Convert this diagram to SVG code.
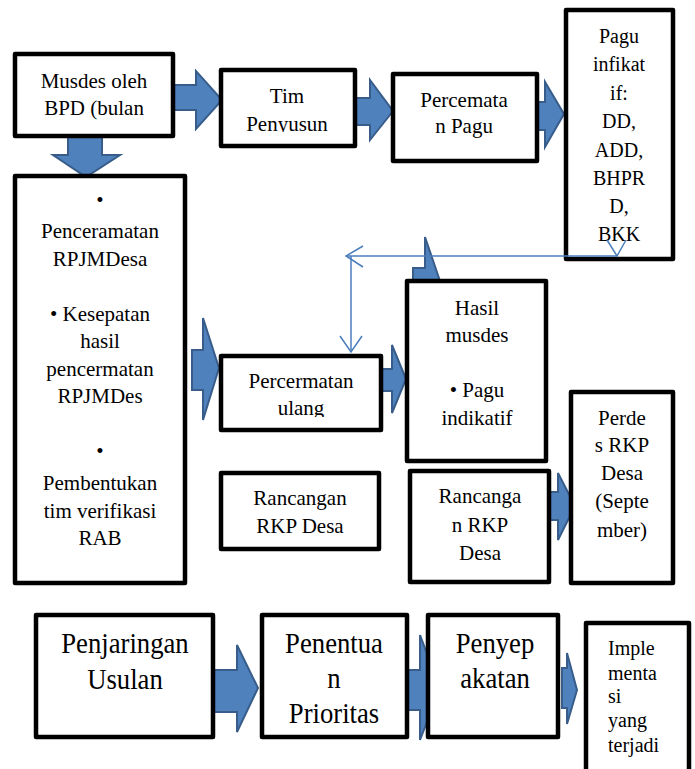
<svg xmlns="http://www.w3.org/2000/svg" width="695" height="769" viewBox="0 0 695 769">
<defs>
<style>
.box{fill:#fff;stroke:#000;stroke-width:4.5;stroke-linejoin:round}
.boxn{fill:none;stroke:#000;stroke-width:4.5;stroke-linejoin:round}
text{font-family:'Liberation Serif','Times New Roman',Tinos,'DejaVu Serif',serif}
.t{font-size:21px;fill:#000;text-anchor:middle}
.p{font-size:20px}
.big{font-size:30px}
.l{text-anchor:start;font-size:20px}
.blk{fill:#4f81bd;stroke:#385d8a;stroke-width:2;stroke-linejoin:miter}
.thin{fill:none;stroke:#4a7ebb;stroke-width:1.5}
</style>
<clipPath id="cTim"><rect x="221" y="70" width="134" height="62"/></clipPath>
<clipPath id="cUlang"><rect x="221" y="356" width="160" height="61"/></clipPath>
</defs>
<rect width="695" height="769" fill="#fff"/>
<g id="connectors">
<polygon class="blk" points="173,85 196,85 196,71 222,100 196,129 196,110 173,110"/>
<polygon class="blk" points="355,98 370,98 370,80 393,111 370,140 370,125 355,125"/>
<polygon class="blk" points="537,102 545,102 545,82 564,114 545,147 545,130 537,130"/>
<polygon class="blk" points="68,136 102,136 102,155 120,155 86,177 53,155 68,155"/>
<polygon class="blk" points="192,350 203,350 203,318 219,368 203,420 203,390 192,390"/>
<polygon class="blk" points="381,369 392,369 392,345 406,379 392,413 392,391 381,391"/>
<polygon class="blk" points="413,268 425,268 425,237 441,284 425,331 425,300 413,300"/>
<polygon class="blk" points="549,492 558,492 558,473 575,506 558,540 558,520 549,520"/>
<polygon class="blk" points="213,670 237,670 237,645 258,688 237,732 237,712 213,712"/>
<polygon class="blk" points="407,670 420,670 420,635 440,688 420,740 420,710 407,710"/>
<polygon class="blk" points="562,668 567,668 567,653 577,690 567,724 567,708 562,708"/>
</g>
<g id="n1" font-family="Liberation Serif, serif"><rect class="box" x="15" y="54" width="158" height="82"/>
<text class="t" x="94" y="88">Musdes oleh</text><text class="t" x="94" y="115">BPD (bulan</text></g>
<g id="n2"><rect class="box" x="221" y="70" width="134" height="76"/>
<g clip-path="url(#cTim)"><text class="t" x="287" y="103">Tim</text><text class="t" x="287" y="131">Penyusun</text></g></g>
<g id="n3"><rect class="box" x="393" y="74" width="144" height="87"/>
<text class="t" x="464" y="107">Percemata</text><text class="t" x="464" y="133">n Pagu</text></g>
<g id="n4"><rect class="boxn" x="566" y="10" width="107" height="249"/>
<text class="t p" x="619" y="43">Pagu</text><text class="t p" x="619" y="71">infikat</text><text class="t p" x="619" y="100">if:</text><text class="t p" x="619" y="128">DD,</text><text class="t p" x="619" y="157">ADD,</text><text class="t p" x="619" y="185">BHPR</text><text class="t p" x="619" y="213">D,</text><text class="t p" x="619" y="241">BKK</text></g>
<g id="n5"><rect class="box" x="15" y="176" width="170" height="407"/>
<text class="t" x="100" y="207">•</text><text class="t" x="100" y="238">Penceramatan</text><text class="t" x="100" y="266">RPJMDesa</text>
<text class="t" x="100" y="321">• Kesepatan</text><text class="t" x="100" y="348">hasil</text><text class="t" x="100" y="376">pencermatan</text><text class="t" x="100" y="403">RPJMDes</text>
<text class="t" x="100" y="458">•</text><text class="t" x="100" y="490">Pembentukan</text><text class="t" x="100" y="518">tim verifikasi</text><text class="t" x="100" y="545">RAB</text></g>
<g id="n6"><rect class="box" x="221" y="356" width="160" height="74"/>
<g clip-path="url(#cUlang)"><text class="t" x="301" y="388">Percermatan</text><text class="t" x="301" y="415">ulang</text></g></g>
<g id="n7"><rect class="box" x="407" y="281" width="139" height="180"/>
<text class="t" x="477" y="315">Hasil</text><text class="t" x="477" y="342">musdes</text><text class="t" x="477" y="397">• Pagu</text><text class="t" x="477" y="425">indikatif</text></g>
<g id="n8"><rect class="box" x="221" y="473" width="158" height="76"/>
<text class="t" x="300" y="505">Rancangan</text><text class="t" x="300" y="533">RKP Desa</text></g>
<g id="n9"><rect class="box" x="410" y="471" width="139" height="111"/>
<text class="t" x="480" y="503">Rancanga</text><text class="t" x="480" y="532">n RKP</text><text class="t" x="480" y="560">Desa</text></g>
<g id="n10"><rect class="box" x="571" y="392" width="102" height="191"/>
<text class="t" x="622" y="425">Perde</text><text class="t" x="622" y="452">s RKP</text><text class="t" x="622" y="480">Desa</text><text class="t" x="622" y="508">(Septe</text><text class="t" x="622" y="537">mber)</text></g>
<g id="n11"><rect class="box" x="36" y="615" width="177" height="122"/>
<text class="t big" x="0" y="653" transform="translate(125 0) scale(0.89 1)">Penjaringan</text><text class="t big" x="0" y="689" transform="translate(125 0) scale(0.89 1)">Usulan</text></g>
<g id="n12"><rect class="box" x="262" y="615" width="145" height="122"/>
<text class="t big" x="0" y="653" transform="translate(334 0) scale(0.89 1)">Penentua</text><text class="t big" x="0" y="688" transform="translate(334 0) scale(0.89 1)">n</text><text class="t big" x="0" y="723" transform="translate(334 0) scale(0.89 1)">Prioritas</text></g>
<g id="n13"><rect class="box" x="428" y="615" width="130" height="122"/>
<text class="t big" x="0" y="653" transform="translate(495 0) scale(0.89 1)">Penyep</text><text class="t big" x="0" y="688" transform="translate(495 0) scale(0.89 1)">akatan</text></g>
<g id="n14"><rect class="box" x="586" y="623" width="103" height="160"/>
<text class="t l" x="608" y="655">Imple</text><text class="t l" x="608" y="680">menta</text><text class="t l" x="608" y="703">si</text><text class="t l" x="608" y="727">yang</text><text class="t l" x="608" y="752">terjadi</text></g>
<g id="thin-connectors">
<polyline class="thin" points="617,256 346,256"/>
<polyline class="thin" points="363,246 346,256 363,267"/>
<polyline class="thin" points="351,256 351,352"/>
<polyline class="thin" points="340,336 351,352 362,336"/>
<polyline class="thin" points="607,240 617,256 626,240"/>
</g>
</svg>
